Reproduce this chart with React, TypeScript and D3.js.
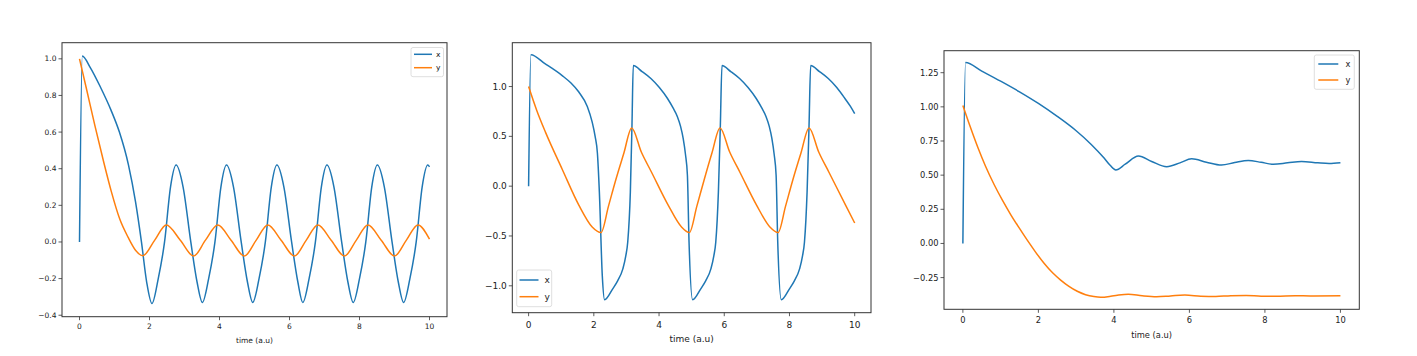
import React from "react";
import * as d3 from "d3";

// ---------- data ----------
const xTicks = [0, 2, 4, 6, 8, 10];
const xTickLabels = ["0", "2", "4", "6", "8", "10"];
const xAxisLabel = "time (a.u)";
const seriesNames = ["x", "y"];

// Panel 1
const p1YTicks = [-0.4, -0.2, 0.0, 0.2, 0.4, 0.6, 0.8, 1.0];
const p1YTickLabels = ["\u22120.4", "\u22120.2", "0.0", "0.2", "0.4", "0.6", "0.8", "1.0"];
const p1T_x = [0, 0.08, 0.3, 0.6, 0.9, 1.14, 1.4, 1.6, 1.77, 1.92, 2.07, 2.25, 2.43, 2.6, 2.76, 2.96, 3.18, 3.36, 3.51, 3.69, 3.87, 4.04, 4.2, 4.4, 4.62, 4.8, 4.95, 5.13, 5.31, 5.48, 5.64, 5.84, 6.06, 6.24, 6.38, 6.56, 6.74, 6.91, 7.07, 7.27, 7.49, 7.67, 7.82, 8.0, 8.18, 8.35, 8.51, 8.71, 8.93, 9.11, 9.26, 9.44, 9.62, 9.79, 9.95, 10.0];
const p1X = [0, 1.016, 0.955, 0.845, 0.72, 0.6, 0.42, 0.22, 0.0, -0.22, -0.336, -0.2, 0.0, 0.3, 0.42, 0.3, 0.0, -0.22, -0.33, -0.2, 0.0, 0.3, 0.42, 0.3, 0.0, -0.22, -0.33, -0.2, 0.0, 0.3, 0.42, 0.3, 0.0, -0.22, -0.33, -0.2, 0.0, 0.3, 0.42, 0.3, 0.0, -0.22, -0.33, -0.2, 0.0, 0.3, 0.42, 0.3, 0.0, -0.22, -0.33, -0.2, 0.0, 0.3, 0.42, 0.41];
const p1T_y = [0, 0.2, 0.44, 0.7, 0.91, 1.15, 1.39, 1.6, 1.81, 2.15, 2.48, 2.88, 3.26, 3.6, 3.95, 4.33, 4.71, 5.05, 5.38, 5.76, 6.14, 6.48, 6.81, 7.19, 7.57, 7.91, 8.24, 8.62, 9.0, 9.34, 9.67, 10.0];
const p1Y = [1.0, 0.835, 0.635, 0.43, 0.275, 0.125, 0.025, -0.045, -0.075, 0.01, 0.093, 0.01, -0.077, 0.01, 0.093, 0.01, -0.077, 0.01, 0.093, 0.01, -0.077, 0.01, 0.093, 0.01, -0.077, 0.01, 0.093, 0.01, -0.077, 0.01, 0.093, 0.015];

// Panel 2
const p2YTicks = [-1.0, -0.5, 0.0, 0.5, 1.0];
const p2YTickLabels = ["\u22121.0", "\u22120.5", "0.0", "0.5", "1.0"];
const p2T_x = [
  0, 0.07, 0.5, 1.03, 1.3, 1.54, 1.8, 1.95, 2.04, 2.11, 2.17, 2.26, 2.33,
  2.58, 2.73, 2.89, 2.98, 3.04, 3.12, 3.17, 3.21,
  3.48, 3.75, 4.01, 4.26, 4.43, 4.56, 4.66, 4.74, 4.81, 4.87, 4.92, 5.03,
  5.28, 5.43, 5.59, 5.68, 5.74, 5.82, 5.88, 5.93,
  6.2, 6.47, 6.73, 6.98, 7.15, 7.28, 7.38, 7.46, 7.53, 7.59, 7.64, 7.75,
  8.0, 8.15, 8.31, 8.4, 8.46, 8.54, 8.6, 8.65,
  8.92, 9.19, 9.45, 9.7, 9.87, 10.0,
];
const p2X = [
  0, 1.32, 1.23, 1.11, 1.035, 0.945, 0.8, 0.643, 0.5, 0.33, -0.06, -0.9, -1.14,
  -1.03, -0.95, -0.83, -0.7, -0.56, -0.06, 0.61, 1.21,
  1.15, 1.08, 0.99, 0.88, 0.785, 0.7, 0.6, 0.48, 0.32, 0.11, -0.56, -1.14,
  -1.03, -0.95, -0.83, -0.7, -0.56, -0.06, 0.61, 1.21,
  1.15, 1.08, 0.99, 0.88, 0.785, 0.7, 0.6, 0.48, 0.32, 0.11, -0.56, -1.14,
  -1.03, -0.95, -0.83, -0.7, -0.56, -0.06, 0.61, 1.21,
  1.15, 1.08, 0.99, 0.88, 0.8, 0.727,
];
const p2T_y = [0, 0.25, 0.52, 1.03, 1.54, 1.95, 2.22, 2.45, 2.67, 2.92, 3.16, 3.46, 3.77, 4.28, 4.69, 4.93, 5.16, 5.38, 5.62, 5.87, 6.17, 6.48, 6.99, 7.4, 7.65, 7.88, 8.1, 8.35, 8.6, 8.9, 9.21, 9.72, 10.0];
const p2Y = [1.0, 0.76, 0.54, 0.17, -0.19, -0.41, -0.466, -0.2, 0.06, 0.33, 0.585, 0.34, 0.14, -0.19, -0.41, -0.466, -0.2, 0.06, 0.33, 0.585, 0.34, 0.14, -0.19, -0.41, -0.466, -0.2, 0.06, 0.33, 0.585, 0.34, 0.14, -0.19, -0.37];

// Panel 3
const p3YTicks = [-0.25, 0.0, 0.25, 0.5, 0.75, 1.0, 1.25];
const p3YTickLabels = ["\u22120.25", "0.00", "0.25", "0.50", "0.75", "1.00", "1.25"];
const p3T_x = [0, 0.07, 0.5, 1.0, 1.5, 2.0, 2.5, 3.0, 3.4, 3.74, 3.9, 4.05, 4.3, 4.65, 5.0, 5.4, 5.75, 6.06, 6.45, 6.85, 7.2, 7.56, 7.9, 8.22, 8.6, 8.97, 9.4, 9.7, 10.0];
const p3X = [0, 1.325, 1.262, 1.188, 1.11, 1.025, 0.93, 0.825, 0.725, 0.625, 0.572, 0.538, 0.58, 0.64, 0.6, 0.562, 0.59, 0.62, 0.595, 0.574, 0.592, 0.607, 0.594, 0.58, 0.59, 0.6, 0.59, 0.585, 0.59];
const p3T_y = [0, 0.2, 0.4, 0.6, 0.83, 1.05, 1.27, 1.5, 1.71, 1.93, 2.15, 2.37, 2.59, 2.8, 3.03, 3.25, 3.47, 3.65, 4.0, 4.38, 4.75, 5.13, 5.5, 5.88, 6.3, 6.7, 7.1, 7.5, 7.9, 8.3, 8.8, 9.3, 10.0];
const p3Y = [1.01, 0.85, 0.7, 0.565, 0.43, 0.315, 0.21, 0.11, 0.022, -0.065, -0.145, -0.213, -0.268, -0.312, -0.35, -0.375, -0.389, -0.394, -0.383, -0.371, -0.383, -0.39, -0.384, -0.378, -0.386, -0.389, -0.382, -0.381, -0.386, -0.387, -0.383, -0.384, -0.383];

// ---------- layout ----------
const COLORS = ["#1f77b4", "#ff7f0e"];
const FONT = "'DejaVu Sans', sans-serif";

type Panel = {
  left: number; right: number; top: number; bottom: number;
  xDomain: [number, number]; yDomain: [number, number];
  yTicks: number[]; yTickLabels: string[];
  tx: number[]; xs: number[]; ty: number[]; ys: number[];
  font: number;
  legend: { x0: number; y0: number; x1: number; y1: number; lx0: number; lx1: number; tx: number; r1: number; r2: number };
  xTickLabelY: number; xLabelY: number;
};

const panels: Panel[] = [
  {
    left: 62, right: 447, top: 42.7, bottom: 316.7,
    xDomain: [-0.5, 10.5], yDomain: [-0.408, 1.088],
    yTicks: p1YTicks, yTickLabels: p1YTickLabels,
    tx: p1T_x, xs: p1X, ty: p1T_y, ys: p1Y, font: 7.5,
    legend: { x0: 411, y0: 47.5, x1: 443.5, y1: 76.7, lx0: 414, lx1: 432, tx: 436, r1: 54.3, r2: 67.7 },
    xTickLabelY: 326.5, xLabelY: 340,
  },
  {
    left: 512.3, right: 871, top: 42.7, bottom: 312.7,
    xDomain: [-0.5, 10.5], yDomain: [-1.27, 1.44],
    yTicks: p2YTicks, yTickLabels: p2YTickLabels,
    tx: p2T_x, xs: p2X, ty: p2T_y, ys: p2Y, font: 9,
    legend: { x0: 516.7, y0: 270, x1: 551.7, y1: 306.7, lx0: 519.5, lx1: 538.5, tx: 544.5, r1: 280, r2: 296.7 },
    xTickLabelY: 325, xLabelY: 339,
  },
  {
    left: 944, right: 1359.3, top: 50.7, bottom: 309.3,
    xDomain: [-0.5, 10.5], yDomain: [-0.482, 1.411],
    yTicks: p3YTicks, yTickLabels: p3YTickLabels,
    tx: p3T_x, xs: p3X, ty: p3T_y, ys: p3Y, font: 8.3,
    legend: { x0: 1314.3, y0: 55, x1: 1354.3, y1: 89.3, lx0: 1318.3, lx1: 1338.3, tx: 1345.5, r1: 64, r2: 80 },
    xTickLabelY: 320, xLabelY: 335,
  },
];

function PanelView({ p }: { p: Panel }) {
  const x = d3.scaleLinear().domain(p.xDomain).range([p.left, p.right]);
  const y = d3.scaleLinear().domain(p.yDomain).range([p.bottom, p.top]);
  const line = d3
    .line<[number, number]>()
    .x((d) => x(d[0]))
    .y((d) => y(d[1]))
    .curve(d3.curveMonotoneX);
  const xData = p.tx.map((t, i) => [t, p.xs[i]] as [number, number]);
  const yData = p.ty.map((t, i) => [t, p.ys[i]] as [number, number]);
  const tickLen = 3.5;
  const axisColor = "#333";
  const textColor = "#222";
  const lg = p.legend;
  return (
    <g>
      <path d={line(xData) || ""} fill="none" stroke={COLORS[0]} strokeWidth={1.5} strokeLinejoin="round" />
      <path d={line(yData) || ""} fill="none" stroke={COLORS[1]} strokeWidth={1.5} strokeLinejoin="round" />
      <rect x={p.left} y={p.top} width={p.right - p.left} height={p.bottom - p.top} fill="none" stroke={axisColor} strokeWidth={1} />
      {xTicks.map((t, i) => (
        <g key={"xt" + i}>
          <line x1={x(t)} x2={x(t)} y1={p.bottom} y2={p.bottom + tickLen} stroke={axisColor} strokeWidth={0.8} />
          <text x={x(t)} y={p.xTickLabelY} fontSize={p.font} fontFamily={FONT} fill={textColor} textAnchor="middle" dominantBaseline="central">
            {xTickLabels[i]}
          </text>
        </g>
      ))}
      {p.yTicks.map((v, i) => (
        <g key={"yt" + i}>
          <line x1={p.left - tickLen} x2={p.left} y1={y(v)} y2={y(v)} stroke={axisColor} strokeWidth={0.8} />
          <text x={p.left - tickLen - 2} y={y(v)} fontSize={p.font} fontFamily={FONT} fill={textColor} textAnchor="end" dominantBaseline="central">
            {p.yTickLabels[i]}
          </text>
        </g>
      ))}
      <text x={(p.left + p.right) / 2} y={p.xLabelY} fontSize={p.font} fontFamily={FONT} fill={textColor} textAnchor="middle" dominantBaseline="central">
        {xAxisLabel}
      </text>
      <rect x={lg.x0} y={lg.y0} width={lg.x1 - lg.x0} height={lg.y1 - lg.y0} rx={2} ry={2} fill="#fff" fillOpacity={0.8} stroke="#d6d6d6" strokeWidth={0.8} />
      {[lg.r1, lg.r2].map((ry, i) => (
        <g key={"lg" + i}>
          <line x1={lg.lx0} x2={lg.lx1} y1={ry} y2={ry} stroke={COLORS[i]} strokeWidth={1.5} />
          <text x={lg.tx} y={ry} fontSize={p.font} fontFamily={FONT} fill={textColor} dominantBaseline="central">
            {seriesNames[i]}
          </text>
        </g>
      ))}
    </g>
  );
}

export default function App() {
  return (
    <svg
      width={1417}
      height={356}
      viewBox="0 0 1417 356"
      style={{ position: "absolute", left: 0, top: 0, display: "block", background: "#fff" }}
    >
      <rect x={0} y={0} width={1417} height={356} fill="#fff" />
      {panels.map((p, i) => (
        <PanelView key={i} p={p} />
      ))}
    </svg>
  );
}
